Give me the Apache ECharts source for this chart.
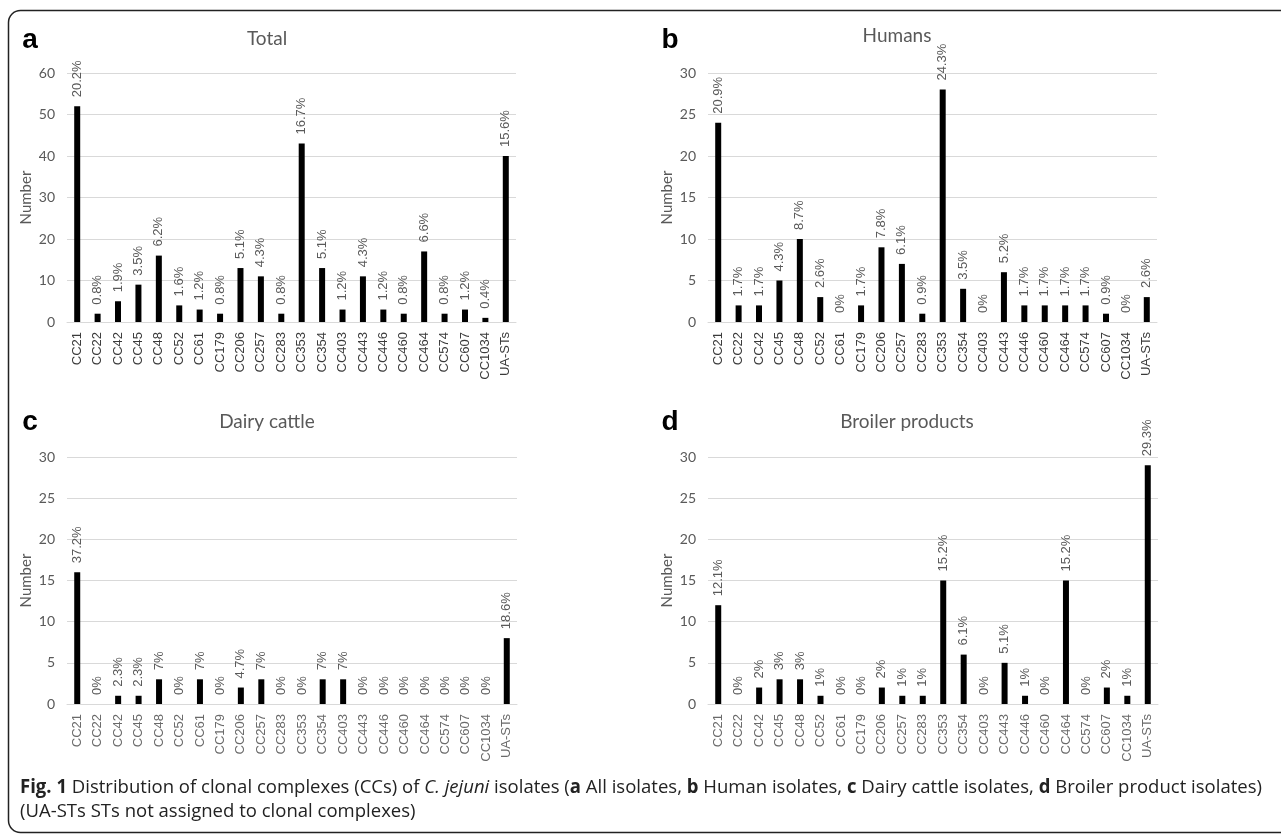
<!DOCTYPE html>
<html>
<head>
<meta charset="utf-8">
<script src="https://cdn.jsdelivr.net/npm/echarts@6/dist/echarts.min.js"></script>
<style>
html,body{margin:0;padding:0;background:#fff;}
#chart{width:1281px;height:835px;}
</style>
</head>
<body>
<div id="chart"></div>
<script>
const categories = ['CC21','CC22','CC42','CC45','CC48','CC52','CC61','CC179','CC206','CC257','CC283','CC353','CC354','CC403','CC443','CC446','CC460','CC464','CC574','CC607','CC1034','UA-STs'];

const totalValues = [52,2,5,9,16,4,3,2,13,11,2,43,13,3,11,3,2,17,2,3,1,40];
const totalLabels = ['20.2%','0.8%','1.9%','3.5%','6.2%','1.6%','1.2%','0.8%','5.1%','4.3%','0.8%','16.7%','5.1%','1.2%','4.3%','1.2%','0.8%','6.6%','0.8%','1.2%','0.4%','15.6%'];

const humanValues = [24,2,2,5,10,3,0,2,9,7,1,28,4,0,6,2,2,2,2,1,0,3];
const humanLabels = ['20.9%','1.7%','1.7%','4.3%','8.7%','2.6%','0%','1.7%','7.8%','6.1%','0.9%','24.3%','3.5%','0%','5.2%','1.7%','1.7%','1.7%','1.7%','0.9%','0%','2.6%'];

const dairyValues = [16,0,1,1,3,0,3,0,2,3,0,0,3,3,0,0,0,0,0,0,0,8];
const dairyLabels = ['37.2%','0%','2.3%','2.3%','7%','0%','7%','0%','4.7%','7%','0%','0%','7%','7%','0%','0%','0%','0%','0%','0%','0%','18.6%'];

const broilerValues = [12,0,2,3,3,1,0,0,2,1,1,15,6,0,5,1,0,15,0,2,1,29];
const broilerLabels = ['12.1%','0%','2%','3%','3%','1%','0%','0%','2%','1%','1%','15.2%','6.1%','0%','5.1%','1%','0%','15.2%','0%','2%','1%','29.3%'];

const panelTitles = ['Total','Humans','Dairy cattle','Broiler products'];
const panelLetters = ['a','b','c','d'];
const yMax = [60,30,30,30];
const yInterval = [10,5,5,5];

const FONT = 'Lato, "Liberation Sans", sans-serif';
const LFONT = '"Liberation Sans", Arial, sans-serif';
const TXT = '#595959';

const grids = [
  {left:67, top:73, width:449, height:249},
  {left:708, top:73, width:449, height:249},
  {left:67, top:457, width:450, height:247},
  {left:708, top:457, width:450, height:247}
];
const titlePos = [[267,39],[897,36],[267,422],[907,422]];
const letterPos = [[30,40],[670,40],[30,422],[670,422]];

const valuesArr = [totalValues, humanValues, dairyValues, broilerValues];
const labelsArr = [totalLabels, humanLabels, dairyLabels, broilerLabels];

const xAxis = [], yAxis = [], series = [];
for (let i = 0; i < 4; i++) {
  xAxis.push({
    type:'category', gridIndex:i, data:categories,
    axisLine:{show:true, lineStyle:{color:'#d9d9d9', width:1}},
    axisTick:{show:false},
    axisLabel:{rotate:90, interval:0, color:(i>=2?'#6a6a6a':'#3a3a3a'), fontFamily:LFONT, fontSize:13, margin:10}
  });
  yAxis.push({
    type:'value', gridIndex:i, min:0, max:yMax[i], interval:yInterval[i],
    name:'Number', nameLocation:'middle', nameGap:33, nameRotate:90,
    nameTextStyle:{color:TXT, fontFamily:FONT, fontSize:15},
    axisLine:{show:false}, axisTick:{show:false},
    axisLabel:{color:TXT, fontFamily:FONT, fontSize:14, margin:12},
    splitLine:{lineStyle:{color:'#d9d9d9', width:1}}
  });
  const labs = labelsArr[i];
  series.push({
    type:'bar', xAxisIndex:i, yAxisIndex:i, data:valuesArr[i],
    barWidth:6, itemStyle:{color:'#000'},
    label:{show:true, position:'top', rotate:90, align:'left', verticalAlign:'middle', distance:9,
      color:TXT, fontFamily:LFONT, fontSize:13,
      formatter:(p)=>labs[p.dataIndex]}
  });
}

const graphic = [
  {type:'rect', shape:{x:8.5, y:10.5, width:1290, height:822, r:12}, style:{fill:'none', stroke:'#222', lineWidth:1.5}, silent:true}
];
for (let i = 0; i < 4; i++) {
  graphic.push({type:'text', x:titlePos[i][0], y:titlePos[i][1],
    style:{text:panelTitles[i], font:'19px '+FONT, fill:TXT, textAlign:'center', textVerticalAlign:'middle'}});
  graphic.push({type:'text', x:letterPos[i][0], y:letterPos[i][1],
    style:{text:panelLetters[i], font:'bold 28px "Liberation Sans", Arial, sans-serif', fill:'#000', textAlign:'center', textVerticalAlign:'middle'}});
}

// caption
const capFamily = '"Open Sans", sans-serif';
const capSize = 19;
const segs = [
  ['bold','Fig. 1'],['','\u0020Distribution of clonal complexes (CCs) of '],['italic','C. jejuni'],['',' isolates ('],
  ['bold','a'],['',' All isolates, '],['bold','b'],['',' Human isolates, '],['bold','c'],['',' Dairy cattle isolates, '],
  ['bold','d'],['',' Broiler product isolates)']
];
const ctx = document.createElement('canvas').getContext('2d');
let capW = 0;
segs.forEach(s => {
  const st = s[0] === 'bold' ? 'bold ' : (s[0] === 'italic' ? 'italic ' : '');
  ctx.font = st + capSize + 'px ' + capFamily;
  capW += ctx.measureText(s[1]).width;
});
const capScale = Math.min(1, 1242 / capW);
const capText = segs.map(s => s[0] === 'bold' ? '{b|' + s[1] + '}' : (s[0] === 'italic' ? '{i|' + s[1] + '}' : s[1])).join('');
graphic.push({type:'text', x:20, y:788, scaleX:capScale,
  style:{
    text:capText,
    font:capSize + 'px ' + capFamily, fill:'#222', textVerticalAlign:'middle',
    rich:{b:{fontWeight:'bold', fontSize:capSize, fontFamily:capFamily, fill:'#222'},
          i:{fontStyle:'italic', fontSize:capSize, fontFamily:capFamily, fill:'#222'}}
  }});
graphic.push({type:'text', x:20, y:812, scaleX:capScale,
  style:{text:'(UA-STs STs not assigned to clonal complexes)', font:capSize + 'px ' + capFamily, fill:'#222', textVerticalAlign:'middle'}});

const chart = echarts.init(document.getElementById('chart'), null, {renderer:'canvas'});
chart.setOption({
  animation:false,
  backgroundColor:'#fff',
  grid:grids,
  xAxis, yAxis, series, graphic
});
</script>
</body>
</html>
